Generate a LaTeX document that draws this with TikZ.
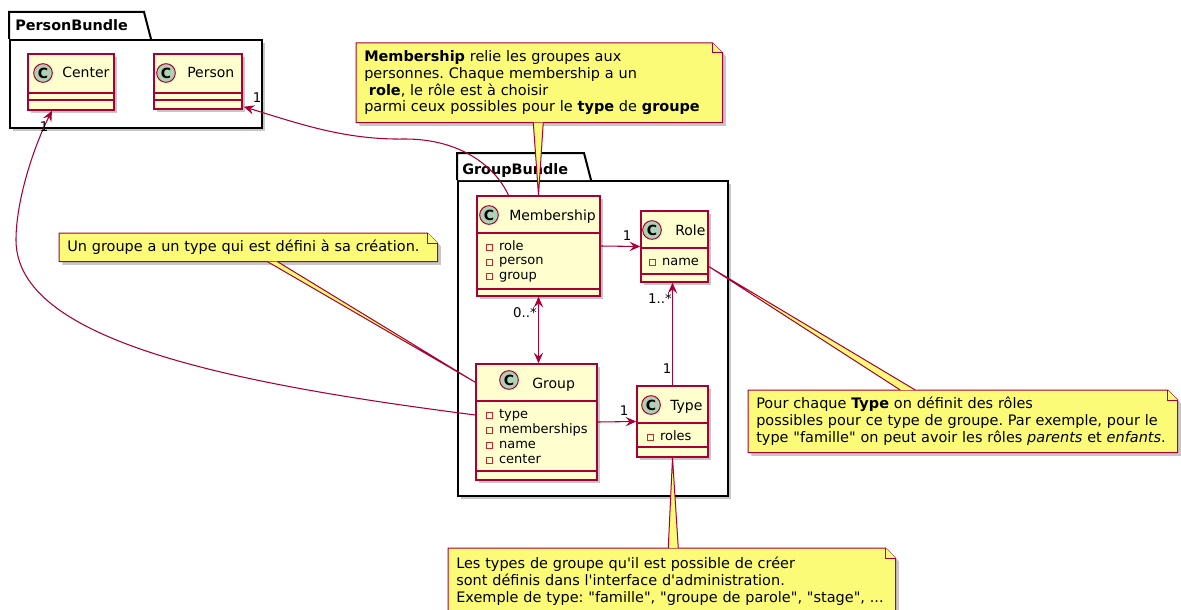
\documentclass[tikz,border=0pt]{standalone}
\usepackage{fontspec}
\setmainfont{DejaVu Sans}
\usetikzlibrary{arrows.meta,fit,calc,shadows,backgrounds}

\definecolor{umlred}{HTML}{A80036}
\definecolor{clsfill}{HTML}{FEFECE}
\definecolor{notefill}{HTML}{FBFB77}
\definecolor{circfill}{HTML}{ADD1B2}
\definecolor{privred}{HTML}{C82930}

\frenchspacing
\newcommand{\priv}{{\fboxsep=0pt\fboxrule=0.6pt\fcolorbox{privred}{clsfill}{\rule{3.6pt}{0pt}\rule{0pt}{3.6pt}}}\hspace{4.8pt}}
\newcommand{\qq}[1]{\textquotedbl#1\textquotedbl}
\newcommand{\noteshape}[1]{%
  \begin{scope}[on background layer]
    \path[notebox] (#1.north west) -- ([xshift=-7.5pt]#1.north east) -- ([yshift=-7.5pt]#1.north east)
      -- (#1.south east) -- (#1.south west) -- cycle;
    \path[fold] ([xshift=-7.5pt]#1.north east) |- ([yshift=-7.5pt]#1.north east);
  \end{scope}}

\tikzset{
  umlshadow/.style={drop shadow={shadow xshift=2.5pt, shadow yshift=-2.5pt, fill=black, opacity=0.22}},
  cls/.style={draw=umlred, fill=clsfill, line width=1.1pt, inner sep=0pt, umlshadow},
  clsline/.style={draw=umlred, line width=1.1pt},
  cicon/.style={circle, draw=umlred, fill=circfill, line width=0.75pt, minimum size=14pt, inner sep=0pt,
    font=\bfseries\fontsize{10.5pt}{10.5pt}\selectfont},
  cname/.style={anchor=base west, inner sep=0pt, font=\fontsize{10.5pt}{12pt}\selectfont},
  attr/.style={anchor=base west, inner sep=0pt, font=\fontsize{9.75pt}{11pt}\selectfont},
  pkg/.style={draw=black, fill=white, line width=1.5pt, inner sep=0pt, umlshadow},
  pkgtab/.style={draw=black, fill=white, line width=1.5pt},
  pkgname/.style={anchor=base west, inner sep=0pt, font=\bfseries\fontsize{10.8pt}{12pt}\selectfont},
  notetext/.style={anchor=north west, align=left, inner xsep=6pt, inner ysep=0pt,
    font=\fontsize{10.85pt}{12.5pt}\selectfont},
  notebox/.style={draw=umlred, fill=notefill, line width=0.75pt, umlshadow},
  fold/.style={draw=umlred, fill=notefill, line width=0.75pt},
  pointer/.style={draw=umlred, fill=notefill, line width=0.75pt},
  link/.style={draw=umlred, line width=0.8pt},
  arr/.style={-{Stealth[length=8pt, width=7pt, inset=3pt]}},
  arrboth/.style={{Stealth[length=8pt, width=7pt, inset=3pt]}-{Stealth[length=8pt, width=7pt, inset=3pt]}},
  mult/.style={inner sep=0pt, font=\fontsize{10pt}{12pt}\selectfont},
}

\begin{document}
\begin{tikzpicture}[x=0.75pt, y=-0.75pt]
  \useasboundingbox (0,0) rectangle (1181,610);

  \begin{scope}[on background layer]
    \node[pkg, fit={(10,40) (262,128)}] (pkgp) {};
    \draw[pkgtab] (pkgp.north west) -- ++(0,-27) -- ++(135,0) -- ($(pkgp.north west)+(142,0)$);
    \node[pkg, fit={(458,181) (728,496)}] (pkgg) {};
    \draw[pkgtab] (pkgg.north west) -- ++(0,-27) -- ++(127,0) -- ($(pkgg.north west)+(134,0)$);
  \end{scope}
  \node[pkgname] at (15,31) {PersonBundle};
  \node[pkgname] at (462,174) {GroupBundle};

  \node[notetext, text width=262.5pt, minimum height=59.25pt] (nmbr) at (356,43)
    {\textbf{Membership} relie les groupes aux\\
     personnes. Chaque membership a un\\
     \hspace*{3.5pt}\textbf{role}, le rôle est à choisir\\
     parmi ceux possibles pour le \textbf{type} de \textbf{groupe}};
  \noteshape{nmbr}
  \node[notetext, text width=271.5pt, minimum height=21pt] (ngrp) at (59,233)
    {Un groupe a un type qui est défini à sa création.};
  \noteshape{ngrp}
  \node[notetext, text width=309.75pt, minimum height=46.5pt] (ntyp) at (748,390)
    {Pour chaque \textbf{Type} on définit des rôles\\
     possibles pour ce type de groupe. Par exemple, pour le\\
     type \qq{famille} on peut avoir les rôles \textit{parents} et \textit{enfants}.};
  \noteshape{ntyp}
  \node[notetext, text width=323.25pt, minimum height=49.5pt] (nlist) at (448,548)
    {Les types de groupe qu\textquotesingle il est possible de créer\\
     sont définis dans l\textquotesingle interface d\textquotesingle administration.\\
     Exemple de type: \qq{famille}, \qq{groupe de parole}, \qq{stage}, ...};
  \noteshape{nlist}

  \node[cls, fit={(28,54) (114,110)}] (cnt) {};
  \node[cls, fit={(154,54) (242,109)}] (prs) {};
  \node[cls, fit={(477,196) (600,296)}] (mbr) {};
  \node[cls, fit={(641,211) (708,282)}] (rol) {};
  \node[cls, fit={(476,364) (597,480)}] (grp) {};
  \node[cls, fit={(637,386) (708,457)}] (typ) {};

  \filldraw[pointer] ($(nmbr.south)+(-6,0)$) -- (mbr.north) -- ($(nmbr.south)+(4,0)$);
  \filldraw[pointer] ($(ngrp.south)+(19,0)$) -- ($(grp.north west)+(0,19)$) -- ($(ngrp.south)+(29,0)$);
  \filldraw[pointer] ($(ntyp.north)+(-62.5,0)$) -- ($(rol.east)+(0,20)$) -- ($(ntyp.north)+(-47.5,0)$);
  \filldraw[pointer] ($(nlist.north)+(-3.5,0)$) -- (typ.south) -- ($(nlist.north)+(6.5,0)$);

  \draw[clsline] (cnt.west |- 0,93) -- (cnt.east |- 0,93);
  \draw[clsline] (cnt.west |- 0,100) -- (cnt.east |- 0,100);
  \node[cicon] at (43,73) {C};
  \node[cname] at (62,78) {Center};

  \draw[clsline] (prs.west |- 0,93) -- (prs.east |- 0,93);
  \draw[clsline] (prs.west |- 0,100) -- (prs.east |- 0,100);
  \node[cicon] at (166,73) {C};
  \node[cname] at (187,78) {Person};

  \draw[clsline] (mbr.west |- 0,233) -- (mbr.east |- 0,233);
  \draw[clsline] (mbr.west |- 0,289) -- (mbr.east |- 0,289);
  \node[cicon] at (489,215) {C};
  \node[cname] at (509,220) {Membership};
  \foreach \a [count=\i from 0] in {role,person,group}
    \node[attr] at (486,250+14.5*\i) {\priv\a};

  \draw[clsline] (rol.west |- 0,248) -- (rol.east |- 0,248);
  \draw[clsline] (rol.west |- 0,274) -- (rol.east |- 0,274);
  \node[cicon] at (652,230) {C};
  \node[cname] at (675,235) {Role};
  \node[attr] at (649,265) {\priv name};

  \draw[clsline] (grp.west |- 0,401) -- (grp.east |- 0,401);
  \draw[clsline] (grp.west |- 0,471) -- (grp.east |- 0,471);
  \node[cicon] at (509,380) {C};
  \node[cname] at (532,388) {Group};
  \foreach \a [count=\i from 0] in {type,memberships,name,center}
    \node[attr] at (486,418+15*\i) {\priv\a};

  \draw[clsline] (typ.west |- 0,423) -- (typ.east |- 0,423);
  \draw[clsline] (typ.west |- 0,447) -- (typ.east |- 0,447);
  \node[cicon] at (651,405) {C};
  \node[cname] at (670,410) {Type};
  \node[attr] at (647,440) {\priv roles};

  \draw[link, arr] (mbr.east) -- (rol.west);
  \draw[link, arrboth] (mbr.south) -- (mbr.south |- grp.north);
  \draw[link, arr] (typ.north) -- (typ.north |- rol.south);
  \draw[link, arr] (grp.east) -- (typ.west);
  \draw[link, arr] ($(mbr.north)+(-30,0)$) .. controls (495,166) and (460,139) .. (405,139)
    .. controls (345,140) and (300,124) .. ($(prs.south east)+(1,-3)$);
  \draw[link, arr] ($(grp.west)+(0,-7)$) .. controls (226,383) and (16,340) .. (16,240)
    .. controls (16,200) and (34,146) .. ($(cnt.south)+(-19,0)$);

  \node[mult] at (627,236) {1};
  \node[mult, anchor=east] at (537,313) {0..*};
  \node[mult, anchor=east] at (672,299) {1..*};
  \node[mult] at (667,369) {1};
  \node[mult] at (624,411) {1};
  \node[mult] at (257,98) {1};
  \node[mult] at (44,127) {1};
\end{tikzpicture}
\end{document}
